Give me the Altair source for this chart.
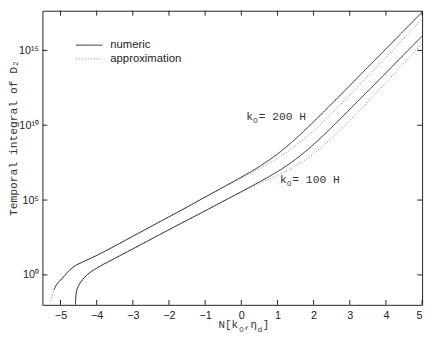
import altair as alt
import pandas as pd

# ---- data (values stored as log10 of the temporal integral) ----
N_upper_num = [-5.18, -5.1, -5.0, -4.9, -4.8, -4.6, -4.4, -4.2, -4.0, -3.5, -3.0, -2.5, -2.0,
               -1.5, -1.0, -0.5, 0.0, 0.5, 1.0, 1.5, 2.0, 2.5, 3.0, 3.5, 4.0, 4.5, 5.0]
lg_upper_num = [-0.98, -0.62, -0.35, -0.08, 0.2, 0.6, 0.85, 1.07, 1.3, 1.93, 2.58, 3.23, 3.88,
                4.53, 5.2, 5.86, 6.53, 7.24, 8.08, 9.09, 10.23, 11.43, 12.65, 13.88, 15.1, 16.33, 17.55]

N_upper_apx = [-5.27, -5.22, -5.18, -5.1, -5.0, -4.9, -4.8, -4.6, -4.4, -4.2, -4.0, -3.5, -3.0,
               -2.5, -2.0, -1.5, -1.0, -0.5, 0.0, 0.5, 1.0, 1.5, 2.0, 2.5, 3.0, 3.5, 4.0, 4.5, 5.0]
lg_upper_apx = [-1.75, -1.3, -0.98, -0.62, -0.35, -0.08, 0.2, 0.6, 0.85, 1.07, 1.3, 1.93, 2.58,
                3.23, 3.88, 4.53, 5.2, 5.85, 6.47, 7.09, 7.78, 8.64, 9.65, 10.79, 12.02, 13.28, 14.55, 15.83, 17.09]

N_lower_num = [-4.59, -4.58, -4.56, -4.53, -4.5, -4.4, -4.3, -4.15, -4.0, -3.5, -3.0, -2.5, -2.0,
               -1.5, -1.0, -0.5, 0.0, 0.5, 1.0, 1.5, 2.0, 2.5, 3.0, 3.5, 4.0, 4.5, 5.0]
lg_lower_num = [-2.3, -1.6, -1.15, -0.88, -0.72, -0.35, -0.08, 0.22, 0.45, 1.1, 1.74, 2.38, 3.02,
                3.65, 4.28, 4.92, 5.56, 6.21, 6.9, 7.72, 8.72, 9.86, 11.06, 12.28, 13.5, 14.73, 15.95]

N_lower_apx = N_lower_num
lg_lower_apx = [-2.3, -1.6, -1.15, -0.88, -0.72, -0.35, -0.08, 0.22, 0.45, 1.1, 1.74, 2.38, 3.02,
                3.65, 4.28, 4.92, 5.53, 6.11, 6.65, 7.27, 8.10, 9.14, 10.31, 11.56, 12.85, 14.16, 15.45]

series_types = ["numeric", "approximation"]
x_ticks = [-5, -4, -3, -2, -1, 0, 1, 2, 3, 4, 5]
y_ticks = [1, 1e5, 1e10, 1e15]
x_domain = [-5.5, 5]
y_domain = [1e-2, 4.47e17]

label_values = ["= 200 H", "= 100 H"]
label_N = [0.14, 1.07]
label_lg = [10.56, 6.36]

# ---- build tables ----
rows = []
for name, xs_, ls, typ in [("200H", N_upper_apx, lg_upper_apx, "approximation"),
                           ("100H", N_lower_apx, lg_lower_apx, "approximation"),
                           ("200H", N_upper_num, lg_upper_num, "numeric"),
                           ("100H", N_lower_num, lg_lower_num, "numeric")]:
    for x, l in zip(xs_, ls):
        rows.append({"N": x, "v": 10.0 ** l, "k0": name, "type": typ})
df = pd.DataFrame(rows)
lab_df = pd.DataFrame({"N": label_N, "v": [10.0 ** l for l in label_lg], "t": label_values,
                       "k": ["k", "k"], "sub": ["0", "0"]})

W, H = 386, 299
xs = alt.Scale(domain=x_domain, nice=False, zero=False)
ys = alt.Scale(type="log", domain=y_domain, nice=False)
dash = alt.Scale(domain=series_types, range=[[1, 0], [1, 2]])
col = alt.Scale(domain=series_types, range=["#262626", "#808080"])

lbl_expr = ("round(log(datum.value)/LN10) == 0 ? '10\u2070' : round(log(datum.value)/LN10) == 5 ? '10\u2075' : "
            "round(log(datum.value)/LN10) == 10 ? '10\u00b9\u2070' : '10\u00b9\u2075'")

x_axis = alt.Axis(values=x_ticks, ticks=False, domain=False, grid=False,
                  labelFont="Liberation Sans", labelFontSize=11,
                  labelColor="#222", labelPadding=5, title=None)
y_axis = alt.Axis(values=y_ticks, ticks=False, domain=False, grid=False,
                  labelExpr=lbl_expr, labelFont="Liberation Sans",
                  labelFontSize=11, labelColor="#222", labelPadding=4,
                  title="Temporal integral of D\u2082",
                  titleFont="Liberation Mono", titleFontSize=11.5,
                  titleFontWeight="normal", titleColor="#333",
                  titleAngle=270, titleAlign="center", titleBaseline="bottom",
                  titleX=-24, titleY=129)

lines = alt.Chart(df).mark_line(strokeWidth=1, interpolate="monotone", clip=True).encode(
    x=alt.X("N:Q", scale=xs, axis=x_axis),
    y=alt.Y("v:Q", scale=ys, axis=y_axis),
    strokeDash=alt.StrokeDash("type:N", scale=dash, legend=None),
    color=alt.Color("type:N", scale=col, legend=None),
    detail="k0:N",
    order=alt.Order("N:Q"),
)


def data_label(field, size, dx, dy, font="Liberation Mono"):
    return alt.Chart(lab_df).mark_text(align="left", baseline="middle", font=font,
                                       fontSize=size, color="#333", dx=dx, dy=dy).encode(
        x=alt.X("N:Q", scale=xs, axis=x_axis), y=alt.Y("v:Q", scale=ys, axis=y_axis),
        text=f"{field}:N")


labels = [data_label("k", 11.5, 0, 0), data_label("sub", 8, 7, 4.5, font="Liberation Sans"),
          data_label("t", 11.5, 12.5, 0)]

xt = pd.DataFrame({"N": x_ticks})
yt = pd.DataFrame({"v": y_ticks})
tick_style = dict(color="#222", strokeWidth=1)
bt = alt.Chart(xt).mark_rule(**tick_style).encode(
    x=alt.X("N:Q", scale=xs, axis=x_axis), y=alt.value(H), y2=alt.value(H - 5))
tt = alt.Chart(xt).mark_rule(**tick_style).encode(
    x=alt.X("N:Q", scale=xs, axis=x_axis), y=alt.value(0), y2=alt.value(5))
lt = alt.Chart(yt).mark_rule(**tick_style).encode(
    y=alt.Y("v:Q", scale=ys, axis=y_axis), x=alt.value(0), x2=alt.value(5))
rt = alt.Chart(yt).mark_rule(**tick_style).encode(
    y=alt.Y("v:Q", scale=ys, axis=y_axis), x=alt.value(W), x2=alt.value(W - 5))


def fixed_text(t, px, py, size, font="Liberation Mono", color="#333"):
    return alt.Chart(pd.DataFrame({"t": [t]})).mark_text(
        align="left", baseline="middle", font=font, fontSize=size, color=color).encode(
        x=alt.value(px), y=alt.value(py), text="t:N")


# x-axis title with subscripts
xtitle = [fixed_text("N[k", 179, 320, 11),
          fixed_text("0", 200, 325, 8, font="Liberation Sans"),
          fixed_text(",\u03b7", 205, 320, 11),
          fixed_text("d", 219, 325, 8, font="Liberation Sans"),
          fixed_text("]", 224, 320, 11)]

# legend (drawn in the plot's upper left)
legend_layers = []
for i, typ in enumerate(series_types):
    yy = 35 + 14 * i
    legend_layers.append(
        alt.Chart(pd.DataFrame({"type": [typ]})).mark_rule(strokeWidth=1).encode(
            x=alt.value(34), x2=alt.value(61), y=alt.value(yy),
            strokeDash=alt.StrokeDash("type:N", scale=dash, legend=None),
            color=alt.Color("type:N", scale=col, legend=None)))
    legend_layers.append(fixed_text(typ, 69, yy, 11.5, font="Liberation Sans", color="#222"))

chart = alt.layer(lines, *labels, bt, tt, lt, rt, *xtitle, *legend_layers).properties(
    width=W, height=H,
    padding={"left": 35, "top": 0, "right": 6, "bottom": 34},
    autosize=alt.AutoSizeParams(type="none"),
).configure_view(stroke="#222", strokeWidth=1)

chart.save("out.html", embed_options={"renderer": "svg", "actions": False})
